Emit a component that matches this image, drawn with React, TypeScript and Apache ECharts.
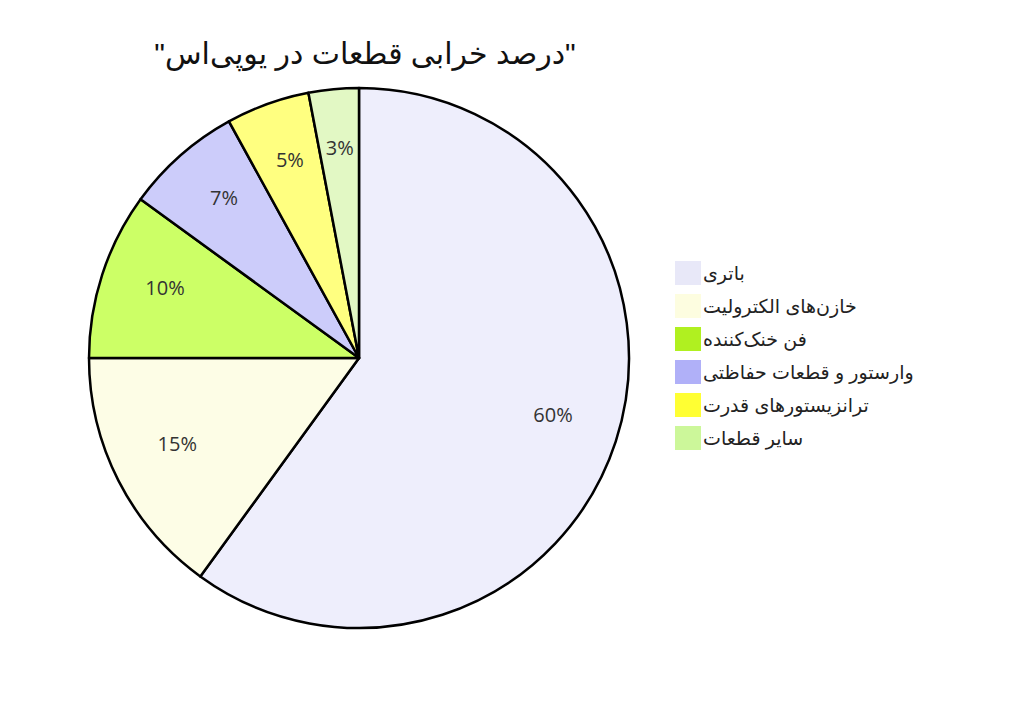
import React, { useEffect, useRef } from "react";
import * as echarts from "echarts";

const titleText = "\"درصد خرابی قطعات در یوپی‌اس\"";
const categories = [
  "باتری",
  "خازن‌های الکترولیت",
  "فن خنک‌کننده",
  "وارستور و قطعات حفاظتی",
  "ترانزیستورهای قدرت",
  "سایر قطعات",
];
const values = [60, 15, 10, 7, 5, 3];
const sliceColors = ["#eeeefc", "#fdfde6", "#ccff66", "#ccccfa", "#ffff80", "#e2f8c4"];
const legendColors = ["#e8e8f8", "#fdfde0", "#b0f020", "#b0b0f8", "#ffff33", "#ccf79a"];

const FONT = 'Arial, "Liberation Sans", "DejaVu Sans", sans-serif';

export default function App() {
  const ref = useRef<HTMLDivElement>(null);
  useEffect(() => {
    document.body.style.margin = "0";
    const chart = echarts.init(ref.current!, undefined, { renderer: "svg" });
    const data = categories.map((name, i) => ({
      name,
      value: values[i],
      itemStyle: { color: sliceColors[i] },
    }));
    chart.setOption({
      animation: false,
      backgroundColor: "#ffffff",
      title: {
        text: titleText,
        left: 360,
        top: 33,
        textAlign: "center",
        textStyle: { fontFamily: FONT, fontSize: 30, fontWeight: "normal", color: "#111" },
      },
      legend: {
        orient: "vertical",
        left: 670,
        top: 256,
        itemWidth: 26,
        itemHeight: 24,
        itemGap: 9,
        icon: "rect",
        selectedMode: false,
        textStyle: { fontFamily: FONT, fontSize: 19, color: "#222", padding: [0, 0, 0, -3] },
        data: categories.map((name, i) => ({ name, itemStyle: { color: legendColors[i], borderWidth: 0 } })),
      },
      series: [
        {
          type: "pie",
          center: [359, 358],
          radius: [0, 270],
          startAngle: 90,
          clockwise: true,
          label: { show: false },
          labelLine: { show: false },
          emphasis: { disabled: true },
          itemStyle: { borderColor: "#000", borderWidth: 2.5 },
          data,
        },
        {
          type: "pie",
          center: [359, 358],
          radius: [132, 270],
          startAngle: 90,
          clockwise: true,
          silent: true,
          z: 5,
          label: {
            show: true,
            position: "inside",
            formatter: "{c}%",
            fontFamily: '"Open Sans", "DejaVu Sans", sans-serif',
            fontSize: 20,
            color: "#333",
            offset: [0, -7],
          },
          labelLine: { show: false },
          emphasis: { disabled: true },
          itemStyle: { color: "rgba(0,0,0,0)", borderWidth: 0 },
          data: categories.map((name, i) => ({ name, value: values[i] })),
        },
      ],
    });
    return () => chart.dispose();
  }, []);
  return <div ref={ref} style={{ width: 1024, height: 718 }} />;
}
